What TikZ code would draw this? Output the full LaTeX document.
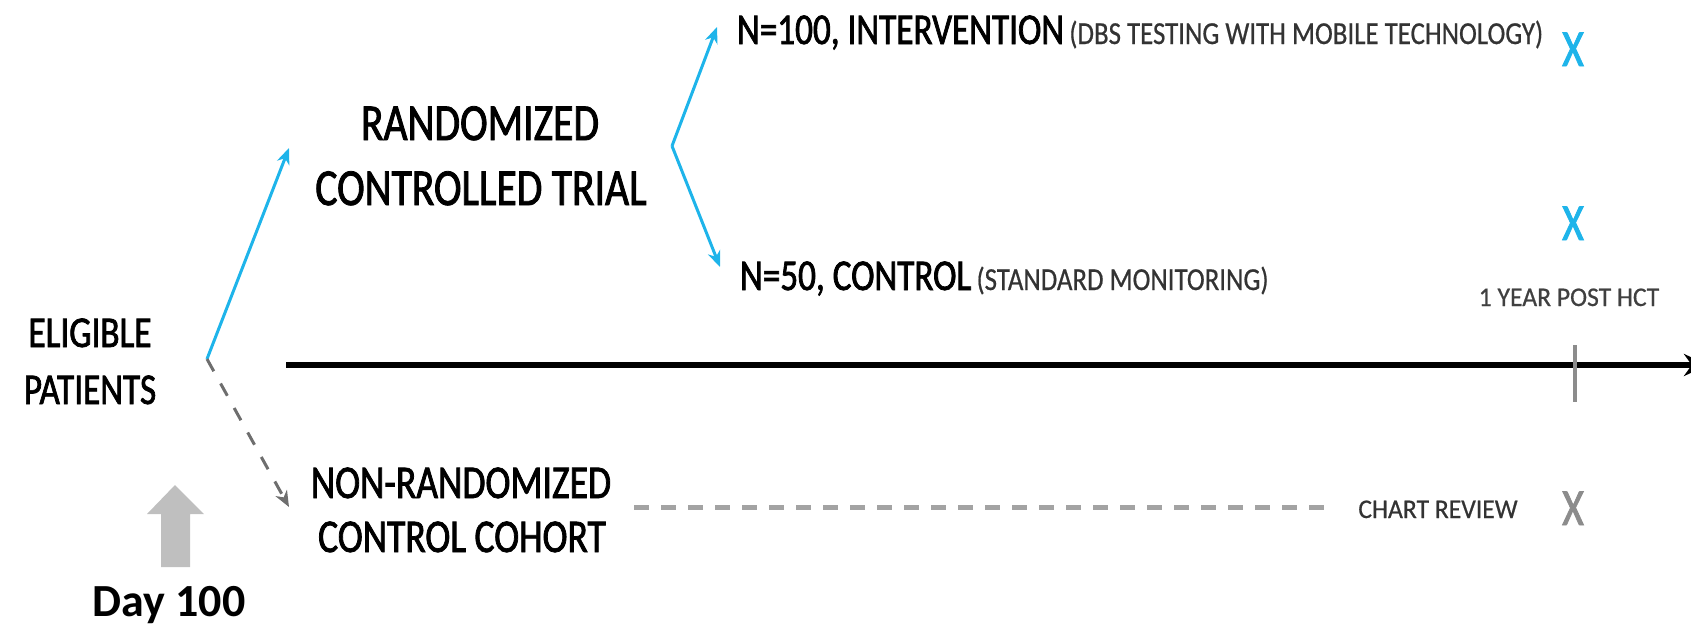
\documentclass[tikz,border=0pt]{standalone}
\usepackage{fontspec}
\usetikzlibrary{arrows.meta}
\newfontfamily\cnd[FakeStretch=0.8, FakeBold=1.6]{Carlito}
\newfontfamily\cnds[FakeStretch=0.95, FakeBold=0.6]{Carlito}
\newfontfamily\cndp[FakeStretch=0.84, FakeBold=0.6]{Carlito}
\newfontfamily\cndb{Carlito Bold}
\definecolor{cyanb}{HTML}{1EB4EA}
\definecolor{dgray}{HTML}{6E6E6E}
\definecolor{lgray}{HTML}{8C8C8C}
\definecolor{agray}{HTML}{BFBFBF}
\tikzset{
  lbl/.style={inner sep=0pt, outer sep=0pt, anchor=base, text=black},
  big/.style={lbl, font=\cnd\fontsize{52}{60}\selectfont},
  mid/.style={lbl, font=\cnd\fontsize{44}{52}\selectfont},
  small/.style={lbl, font=\cndp\fontsize{32}{36}\selectfont, text=black!80},
  tiny/.style={lbl, font=\cnds\fontsize{27}{32}\selectfont, text=black!75},
  bluearrow/.style={draw=cyanb, line width=3pt, -{Stealth[length=16pt, width=13pt, inset=5pt]}},
  grayarrow/.style={draw=dgray, line width=3pt, dash pattern=on 14pt off 14pt, -{Stealth[length=16pt, width=13pt, inset=5pt]}},
  xmark/.style={lbl, font=\cnd\fontsize{52}{60}\selectfont},
}
\begin{document}
\begin{tikzpicture}[x=1pt, y=-1pt]
\useasboundingbox (0,0) rectangle (1691,629);
% left labels
\node[mid] (elig1) at (90,347) {ELIGIBLE};
\node[mid] (elig2) at (90,404) {PATIENTS};
\coordinate (v1) at (207,359);
% RCT
\node[big] (rct1) at (480,140) {RANDOMIZED};
\node[big] (rct2) at (481,205) {CONTROLLED TRIAL};
\coordinate (t1) at (289,148);
\coordinate (v2) at (672,146);
\coordinate (t2) at (717,27);
\coordinate (t3) at (720,267);
% arms
\node[mid, anchor=base west] (int) at (737,44) {N=100, INTERVENTION};
\node[small, anchor=base west] (intd) at (int.base east) {\,(DBS TESTING WITH MOBILE TECHNOLOGY)};
\node[mid, anchor=base west] (ctl) at (740,290) {N=50, CONTROL};
\node[small, anchor=base west] (ctld) at (ctl.base east) {\,(STANDARD MONITORING)};
% X marks
\node[xmark, text=cyanb] (x1) at (1573,66) {X};
\node[xmark, text=cyanb] (x2) at (1573,240) {X};
\node[xmark, text=lgray] (x3) at (1573,525) {X};
% timeline
\node[tiny] (yr) at (1569,306) {1 YEAR POST HCT};
\coordinate (tl0) at (286,365);
\coordinate (tl1) at (1708,365);
\draw[line width=6pt, -{Stealth[length=24pt, width=22pt]}] (tl0) -- (tl1);
\coordinate (tk0) at (1575,345);
\coordinate (tk1) at (1575,402);
\draw[draw=lgray, line width=3.5pt] (tk0) -- (tk1);
% non-randomized
\node[mid, font=\cnd\fontsize{47}{52}\selectfont] (nr1) at (461,498) {NON-RANDOMIZED};
\node[mid, font=\cnd\fontsize{47}{52}\selectfont] (nr2) at (462,552) {CONTROL COHORT};
\coordinate (t4) at (289,507);
\coordinate (d0) at (634,507);
\coordinate (d1) at (1326,507);
\draw[draw=lgray!80, line width=5pt, dash pattern=on 15pt off 12pt] (d0) -- (d1);
\node[small, font=\cnds\fontsize{27}{32}\selectfont] (chart) at (1438,518) {CHART REVIEW};
% arrows
\draw[bluearrow] (v1) -- (t1);
\draw[grayarrow] (v1) -- (t4);
\draw[bluearrow] (v2) -- (t2);
\draw[bluearrow] (v2) -- (t3);
% Day 100
\node[lbl, font=\cndb\fontsize{46}{50}\selectfont] (day) at (169,616) {Day 100};
\fill[agray] (175,485) -- (204,514) -- (190,514) -- (190,567) -- (161,567) -- (161,514) -- (147,514) -- cycle;
\end{tikzpicture}
\end{document}
